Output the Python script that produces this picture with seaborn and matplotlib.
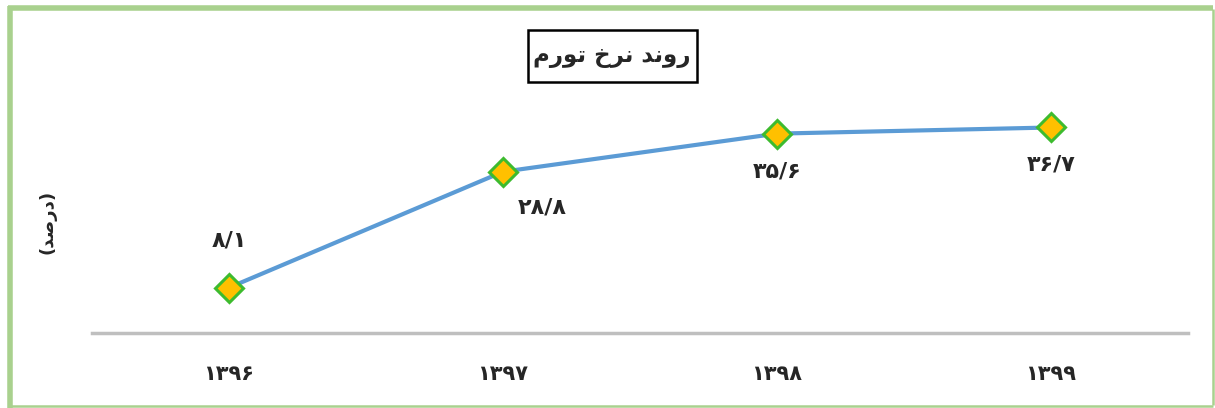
import matplotlib
matplotlib.use("Agg")
import matplotlib.pyplot as plt
import seaborn as sns
import pandas as pd
from matplotlib.lines import Line2D
from matplotlib.patches import Rectangle

# ---- data ----
years = ["۱۳۹۶", "۱۳۹۷", "۱۳۹۸", "۱۳۹۹"]
inflation = [8.1, 28.8, 35.6, 36.7]
value_labels = ["۸/۱", "۲۸/۸", "۳۵/۶", "۳۶/۷"]
# pre-shaped Persian text (visual order, presentation forms)
title_text = "\uFEE1\uFEAD\uFEEE\uFE97 \uFEA5\uFEAE\uFEE7 \uFEAA\uFEE7\uFEED\uFEAD"   # روند نرخ تورم
ylabel_text = "(\uFEAA\uFEBB\uFEAD\uFEA9)"  # (درصد)

df = pd.DataFrame({"year": years, "value": inflation})

sns.set_style("white")
plt.rcParams['font.family'] = ['DejaVu Sans']

fig = plt.figure(figsize=(12.15, 4.08), dpi=100)
ax = fig.add_axes([92/1215, 1-333/408, (1188-92)/1215, (333-53)/408])

sns.lineplot(data=df, x="year", y="value", ax=ax, sort=False,
             color="#5B9BD5", linewidth=3,
             marker="D", markersize=14, markerfacecolor="#FFC000",
             markeredgecolor="#3DBB2E", markeredgewidth=2.2)

ax.set_xlim(-0.5, 3.5)
ax.set_ylim(0, 50)
ax.set_yticks([])
ax.set_xticks(range(len(years)))
ax.set_xticklabels(years, fontsize=15, fontweight="bold")
ax.tick_params(axis="x", length=0, pad=22)
ax.set_xlabel("")
ax.set_ylabel("")
for s in ["top", "right", "left"]:
    ax.spines[s].set_visible(False)
ax.spines["bottom"].set_color("#BFBFBF")
ax.spines["bottom"].set_linewidth(2.5)

offsets = [(0, 34), (28, -26), (0, -27), (0, -27)]
for i, (v, lab) in enumerate(zip(inflation, value_labels)):
    ax.annotate(lab, xy=(i, v), xytext=offsets[i], textcoords="offset points",
                ha="center", va="center", fontsize=16, fontweight="bold")

# title in a box
fig.add_artist(Rectangle((528/1215, 1-82/408), (697-528)/1215, 52/408,
                         transform=fig.transFigure, facecolor="white",
                         edgecolor="black", linewidth=1.8, zorder=3))
fig.text(612/1215, 1-56/408, title_text, ha="center", va="center",
         fontsize=16.5, fontweight="bold", zorder=4)

# y label
fig.text(48/1215, 1-222/408, ylabel_text, rotation=90, ha="center", va="center",
         fontsize=13, fontweight="bold")

# green frame
g = "#A9D18E"
kw = dict(color=g, transform=fig.transFigure, solid_capstyle="butt")
fig.add_artist(Line2D([9.5/1215, 9.5/1215], [0, 1-5.5/408], lw=4, **kw))
fig.add_artist(Line2D([7.5/1215, 1213/1215], [1-7.5/408, 1-7.5/408], lw=4, **kw))
fig.add_artist(Line2D([1212.5/1215, 1212.5/1215], [1-9/408, 1-405/408], lw=1.8, **kw))
fig.add_artist(Line2D([9/1215, 1213/1215], [1-405.5/408, 1-405.5/408], lw=1.8, **kw))

fig.savefig("out.png", dpi=100, facecolor="white")
